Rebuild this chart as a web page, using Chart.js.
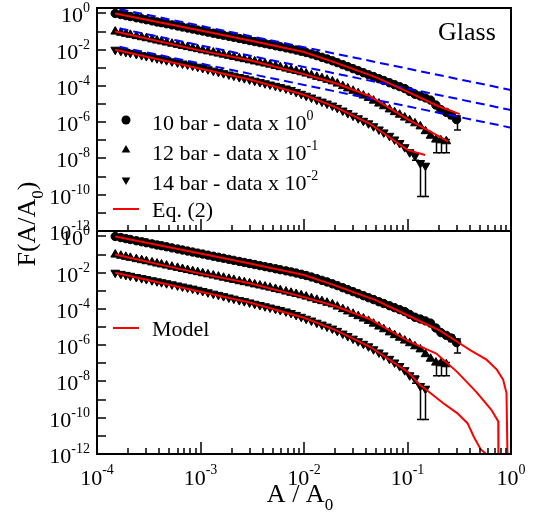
<!DOCTYPE html>
<html>
<head>
<meta charset="utf-8">
<script src="https://cdn.jsdelivr.net/npm/chart.js@4.4.0/dist/chart.umd.min.js"></script>
<style>
  html, body { margin: 0; padding: 0; background: #fff; }
  #wrap { width: 540px; height: 524px; }
</style>
</head>
<body>
<div id="wrap"><canvas id="chart"></canvas></div>
<script>
// Data (A/A0 on x, F(A/A0) on y)
const binX = [1.5e-4, 1.7e-4, 1.9e-4, 2.1e-4, 2.4e-4, 2.7e-4, 3.0e-4, 3.4e-4, 3.8e-4, 4.2e-4,
  4.7e-4, 5.3e-4, 6.0e-4, 6.7e-4, 7.5e-4, 8.4e-4, 9.4e-4, 1.05e-3, 1.18e-3, 1.33e-3,
  1.49e-3, 1.67e-3, 1.88e-3, 2.1e-3, 2.37e-3, 2.65e-3, 2.98e-3, 3.34e-3, 3.75e-3, 4.2e-3,
  4.7e-3, 5.3e-3, 5.9e-3, 6.7e-3, 7.5e-3, 8.4e-3, 9.4e-3, 1.05e-2, 1.18e-2, 1.33e-2,
  1.49e-2, 1.67e-2, 1.88e-2, 2.1e-2, 2.37e-2, 2.65e-2, 2.98e-2, 3.34e-2, 3.75e-2, 4.2e-2,
  4.7e-2, 5.3e-2, 5.9e-2, 6.7e-2, 7.5e-2, 8.4e-2, 9.4e-2, 0.105, 0.118, 0.133,
  0.149, 0.167, 0.188, 0.21, 0.237, 0.265, 0.298];

// 10 bar - data x 10^0
const bar10 = [1.0, 0.87, 0.76, 0.68, 0.58, 0.51, 0.45, 0.39, 0.34, 0.31,
  0.27, 0.234, 0.203, 0.179, 0.157, 0.138, 0.121, 0.107, 0.093, 0.081,
  0.071, 0.0625, 0.0546, 0.0481, 0.0418, 0.0368, 0.0321, 0.0282, 0.0247, 0.0217,
  0.0191, 0.0166, 0.0147, 0.0127, 0.0111, 0.0096, 0.0082, 0.0070, 0.0058, 0.0047,
  0.0038, 0.0031, 0.00244, 0.00194, 0.00149, 0.00117, 9.0e-4, 7.0e-4, 5.4e-4, 4.2e-4,
  3.3e-4, 2.5e-4, 2.0e-4, 1.51e-4, 1.18e-4, 9.2e-5, 7.2e-5, 5.0e-5, 3.5e-5, 2.8e-5,
  2.2e-5, 1.66e-5, 8.9e-6, 5.0e-6, 3.5e-6, 2.5e-6, 1.4e-6];

// 12 bar - data x 10^-1
const bar12 = [0.1, 0.086, 0.075, 0.066, 0.056, 0.049, 0.043, 0.037, 0.032, 0.0285,
  0.0248, 0.0214, 0.0185, 0.0161, 0.0140, 0.0122, 0.0107, 0.0093, 0.0081, 0.0070,
  0.0061, 0.0053, 0.0046, 0.0040, 0.0034, 0.0030, 0.0026, 0.00226, 0.00197, 0.00172,
  0.00150, 0.00127, 0.00109, 9.1e-4, 7.8e-4, 6.7e-4, 5.7e-4, 4.8e-4, 3.9e-4, 3.2e-4,
  2.7e-4, 2.2e-4, 1.8e-4, 1.35e-4, 9.8e-5, 7.3e-5, 5.4e-5, 4.0e-5, 2.95e-5, 2.2e-5,
  1.55e-5, 1.07e-5, 7.6e-6, 5.1e-6, 3.6e-6, 2.6e-6, 1.8e-6, 1.29e-6, 8.7e-7, 5.9e-7,
  3.2e-7, 1.8e-7, 1.1e-7, 1.0e-7, 8.9e-8];

// 14 bar - data x 10^-2
const bar14 = [0.01, 0.00865, 0.00757, 0.00675, 0.00577, 0.00503, 0.00445, 0.00385, 0.00337, 0.0030,
  0.00263, 0.00229, 0.00198, 0.00173, 0.00152, 0.00133, 0.00115, 9.8e-4, 8.3e-4, 7.0e-4,
  6.0e-4, 5.1e-4, 4.3e-4, 3.7e-4, 3.1e-4, 2.7e-4, 2.3e-4, 1.94e-4, 1.65e-4, 1.41e-4,
  1.2e-4, 1.02e-4, 8.7e-5, 7.3e-5, 6.0e-5, 4.7e-5, 3.7e-5, 2.9e-5, 2.3e-5, 1.75e-5,
  1.38e-5, 1.07e-5, 8.3e-6, 6.2e-6, 4.4e-6, 3.2e-6, 2.3e-6, 1.66e-6, 1.2e-6, 8.7e-7,
  6.0e-7, 4.0e-7, 2.75e-7, 1.78e-7, 1.12e-7, 7.1e-8, 4.2e-8, 2.2e-8, 1.4e-8, 5.6e-9,
  4.0e-9];

// error bars: [x, upper, lower]
const err10 = [[0.237, 4.5e-6, 2.6e-6], [0.265, 3.5e-6, 1.6e-6], [0.298, 2.2e-6, 3.7e-7]];
const err12 = [[0.188, 1.3e-7, 2.1e-8], [0.21, 1.2e-7, 2.1e-8], [0.237, 1.1e-7, 2.1e-8]];
const err14 = [[0.118, 2.0e-8, 8.0e-9], [0.133, 7.0e-9, 7.9e-11], [0.149, 5.0e-9, 7.9e-11]];

// Eq. (2) curves, top panel
const eqX10 = [1.5e-4, 1e-3, 3e-3, 1e-2, 1.9e-2, 5e-2, 0.1, 0.2, 0.32];
const eq10 = [1.0, 0.115, 0.032, 0.0075, 0.0022, 3.0e-4, 4.9e-5, 7.6e-6, 2.8e-6];
const eqX12 = [1.5e-4, 1e-3, 3e-3, 1e-2, 2e-2, 4.3e-2, 0.1, 0.2, 0.248];
const eq12 = [0.1, 0.0089, 0.0026, 4.5e-4, 1.45e-4, 2.8e-5, 1.5e-6, 1.7e-7, 8.5e-8];
const eqX14 = [1.5e-4, 1e-3, 3e-3, 1e-2, 2e-2, 4.3e-2, 0.1, 0.148];
const eq14 = [0.01, 9e-4, 2.3e-4, 3.3e-5, 7e-6, 8.5e-7, 3e-8, 1.55e-8];

// power laws (blue dashed), top panel
const powX = [1.65e-4, 1.0];
const pow10 = [1.74, 6.0e-5];
const pow12 = [0.148, 4.7e-6];
const pow14 = [0.0145, 5.0e-7];

// Model curves, bottom panel
const modX10 = [1.5e-4, 1e-3, 3e-3, 1e-2, 1.9e-2, 5e-2, 0.1, 0.2, 0.3, 0.4, 0.58, 0.73, 0.84, 0.905, 0.935];
const mod10 = [1.0, 0.115, 0.032, 0.0075, 0.0022, 3.0e-4, 4.5e-5, 7e-6, 1.6e-6, 5.6e-7, 1.6e-7, 4.5e-8, 1.26e-8, 2.3e-9, 1e-14];
const modX12 = [1.5e-4, 1e-3, 3e-3, 1e-2, 2e-2, 4.3e-2, 0.1, 0.19, 0.3, 0.466, 0.646, 0.753, 0.757];
const mod12 = [0.1, 0.0089, 0.0026, 4.5e-4, 1.45e-4, 2.8e-5, 1.8e-6, 3.5e-7, 3.5e-8, 2.5e-9, 2.75e-10, 6.3e-11, 1e-14];
const modX14 = [1.5e-4, 1e-3, 3e-3, 1e-2, 2e-2, 4.3e-2, 0.1, 0.132, 0.222, 0.302, 0.38, 0.437, 0.51, 0.575, 0.6];
const mod14 = [0.01, 9e-4, 2.3e-4, 3.3e-5, 7e-6, 8.5e-7, 3.5e-8, 6.6e-9, 6.3e-10, 1.8e-10, 5e-11, 8.9e-12, 1.8e-12, 1e-12, 1e-14];

// tick labels (powers of ten)
const xTickExp = [-4, -3, -2, -1, 0];
const yTickExp = [0, -2, -4, -6, -8, -10, -12];

const FONT = "'Liberation Serif', 'Times New Roman', serif";

function pts(xs, ys) {
  return ys.map((y, i) => ({ x: xs[i], y: y }));
}

function markers(ys, style, rot, radius, axis) {
  return {
    data: pts(binX, ys),
    yAxisID: axis,
    pointStyle: style,
    rotation: rot,
    pointRadius: radius,
    pointBackgroundColor: '#000',
    pointBorderColor: '#000',
    pointBorderWidth: 1,
    order: 3,
  };
}

function curve(xs, ys, color, axis, dash) {
  return {
    data: pts(xs, ys),
    yAxisID: axis,
    showLine: true,
    borderColor: color,
    borderWidth: 2,
    borderDash: dash || [],
    pointRadius: 0,
    tension: 0,
    order: dash ? 2 : 1,
  };
}

// draw "base" with a raised (or lowered) small part after it
function drawPow(ctx, base, exp, x, y, align, size, small, shift) {
  ctx.font = size + 'px ' + FONT;
  const w1 = ctx.measureText(base).width;
  ctx.font = small + 'px ' + FONT;
  const w2 = ctx.measureText(exp).width;
  let x0 = x;
  if (align === 'right') x0 = x - w1 - w2;
  if (align === 'center') x0 = x - (w1 + w2) / 2;
  ctx.textAlign = 'left';
  ctx.textBaseline = 'alphabetic';
  ctx.font = size + 'px ' + FONT;
  ctx.fillText(base, x0, y);
  ctx.font = small + 'px ' + FONT;
  ctx.fillText(exp, x0 + w1, y - shift);
  return x0 + w1 + w2;
}

const errorBars = {
  id: 'errorBars',
  beforeDatasetsDraw(chart) {
    const ctx = chart.ctx;
    const xs = chart.scales.x;
    ctx.save();
    ctx.strokeStyle = '#000';
    ctx.lineWidth = 1.5;
    [chart.scales.yTop, chart.scales.yBot].forEach(ys => {
      [err10, err12, err14].forEach(set => {
        set.forEach(e => {
          const px = Math.round(xs.getPixelForValue(e[0])) + 0.5;
          const hi = ys.getPixelForValue(e[1]);
          const lo = ys.getPixelForValue(e[2]);
          ctx.beginPath();
          ctx.moveTo(px, hi); ctx.lineTo(px, lo);
          ctx.moveTo(px - 3.5, hi); ctx.lineTo(px + 3.5, hi);
          ctx.moveTo(px - 3.5, lo); ctx.lineTo(px + 3.5, lo);
          ctx.stroke();
        });
      });
    });
    ctx.restore();
  }
};

const frames = {
  id: 'frames',
  afterDraw(chart) {
    const ctx = chart.ctx;
    const xs = chart.scales.x;
    const panels = [chart.scales.yTop, chart.scales.yBot];
    ctx.save();
    ctx.strokeStyle = '#000';
    ctx.fillStyle = '#000';
    ctx.lineWidth = 2;
    panels.forEach(ys => {
      ctx.strokeRect(xs.left, ys.top, xs.right - xs.left, ys.bottom - ys.top);
      ctx.beginPath();
      ctx.lineWidth = 1.5;
      for (let e = 0; e >= -12; e--) {
        const py = Math.round(ys.getPixelForValue(Math.pow(10, e)));
        ctx.moveTo(xs.left, py); ctx.lineTo(xs.left + 9, py);
      }
      for (let e = -4; e <= 0; e++) {
        const px = Math.round(xs.getPixelForValue(Math.pow(10, e)));
        ctx.moveTo(px, ys.bottom); ctx.lineTo(px, ys.bottom - 12);
        if (e < 0) {
          for (let k = 2; k <= 9; k++) {
            const mx = Math.round(xs.getPixelForValue(k * Math.pow(10, e)));
            ctx.moveTo(mx, ys.bottom); ctx.lineTo(mx, ys.bottom - 6);
          }
        }
      }
      ctx.stroke();
      ctx.lineWidth = 2;
      yTickExp.forEach(e => {
        const py = ys.getPixelForValue(Math.pow(10, e));
        drawPow(ctx, '10', String(e), 90, py + 9, 'right', 22, 14, 10);
      });
    });
    const yb = chart.scales.yBot.bottom;
    xTickExp.forEach(e => {
      const px = xs.getPixelForValue(Math.pow(10, e));
      drawPow(ctx, '10', String(e), px, yb + 31, 'center', 22, 14, 11);
    });

    // axis titles
    drawPow(ctx, 'A / A', '0', 300, yb + 48, 'center', 26, 17, -8);

    ctx.save();
    ctx.translate(35, 224);
    ctx.rotate(-Math.PI / 2);
    ctx.font = '26px ' + FONT;
    const wA = ctx.measureText('F(A/A').width;
    const wC = ctx.measureText(')').width;
    ctx.font = '17px ' + FONT;
    const w0 = ctx.measureText('0').width;
    const start = -(wA + w0 + wC) / 2;
    const endX = drawPow(ctx, 'F(A/A', '0', start, 0, 'left', 26, 17, -8);
    ctx.font = '26px ' + FONT;
    ctx.fillText(')', endX, 0);
    ctx.restore();

    // "Glass" label
    ctx.font = '26px ' + FONT;
    ctx.textAlign = 'left';
    ctx.fillText('Glass', 438, 40);

    // legend, top panel
    const pOpts = [
      { pointStyle: 'circle', rotation: 0, radius: 4.5, borderWidth: 0 },
      { pointStyle: 'triangle', rotation: 0, radius: 5, borderWidth: 0 },
      { pointStyle: 'triangle', rotation: 180, radius: 5, borderWidth: 0 },
    ];
    const rows = [['10 bar - data x 10', '0'], ['12 bar - data x 10', '-1'], ['14 bar - data x 10', '-2']];
    const rowY = [120, 150, 180];
    rows.forEach((r, i) => {
      Chart.helpers.drawPoint(ctx, pOpts[i], 126, rowY[i]);
      ctx.fillStyle = '#000';
      drawPow(ctx, r[0], r[1], 152, rowY[i] + 10, 'left', 22, 14, 10);
    });
    ctx.strokeStyle = '#ff0000';
    ctx.lineWidth = 2;
    ctx.beginPath();
    ctx.moveTo(113, 209); ctx.lineTo(139, 209);
    ctx.moveTo(113, 328); ctx.lineTo(139, 328);
    ctx.stroke();
    ctx.font = '22px ' + FONT;
    ctx.fillText('Eq. (2)', 152, 217);
    ctx.fillText('Model', 152, 336);
    ctx.restore();
  }
};

const yScale = {
  type: 'logarithmic',
  min: 1e-12,
  max: 2,
  position: 'left',
  stack: 'panels',
  stackWeight: 1,
  ticks: { display: false },
  grid: { display: false },
  border: { display: false },
  afterFit: s => { s.width = 0; },
};

const ctx = document.getElementById('chart').getContext('2d');
const chart = new Chart(ctx, {
  type: 'scatter',
  data: {
    datasets: [
      markers(bar10, 'circle', 0, 4.2, 'yTop'),
      markers(bar12, 'triangle', 0, 5, 'yTop'),
      markers(bar14, 'triangle', 180, 5, 'yTop'),
      curve(eqX10, eq10, '#ff0000', 'yTop'),
      curve(eqX12, eq12, '#ff0000', 'yTop'),
      curve(eqX14, eq14, '#ff0000', 'yTop'),
      curve(powX, pow10, '#0000ff', 'yTop', [9, 5]),
      curve(powX, pow12, '#0000ff', 'yTop', [9, 5]),
      curve(powX, pow14, '#0000ff', 'yTop', [9, 5]),
      markers(bar10, 'circle', 0, 4.2, 'yBot'),
      markers(bar12, 'triangle', 0, 5, 'yBot'),
      markers(bar14, 'triangle', 180, 5, 'yBot'),
      curve(modX10, mod10, '#ff0000', 'yBot'),
      curve(modX12, mod12, '#ff0000', 'yBot'),
      curve(modX14, mod14, '#ff0000', 'yBot'),
    ],
  },
  options: {
    responsive: true,
    maintainAspectRatio: false,
    animation: false,
    devicePixelRatio: 1,
    layout: { padding: { left: 97, right: 29, top: 8, bottom: 70 } },
    plugins: {
      legend: { display: false },
      tooltip: { enabled: false },
    },
    scales: {
      x: {
        type: 'logarithmic',
        min: 1e-4,
        max: 1,
        position: 'bottom',
        ticks: { display: false },
        grid: { display: false },
        border: { display: false },
        afterFit: s => { s.height = 0; },
      },
      yBot: Object.assign({}, yScale),
      yTop: Object.assign({}, yScale),
    },
  },
  plugins: [errorBars, frames],
});
</script>
</body>
</html>
